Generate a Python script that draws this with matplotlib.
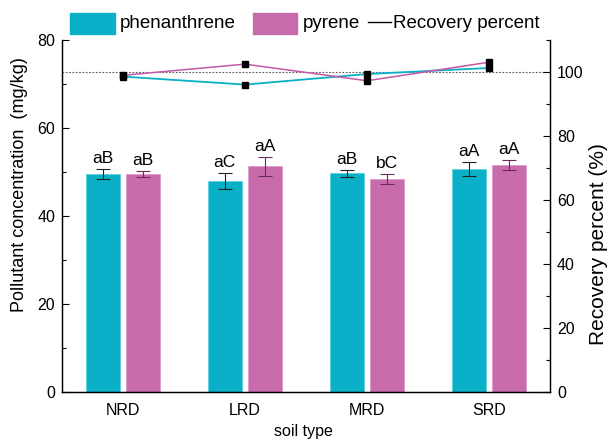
import numpy as np
import matplotlib.pyplot as plt
from matplotlib.patches import Rectangle
from matplotlib.lines import Line2D

plt.rcParams['font.family'] = ['Liberation Sans', 'DejaVu Sans']

# data
soils = ['NRD', 'LRD', 'MRD', 'SRD']
phen = [49.5, 48.0, 49.7, 50.7]
phen_err = [1.1, 1.8, 0.8, 1.5]
pyr = [49.5, 51.3, 48.5, 51.6]
pyr_err = [0.7, 2.2, 1.1, 1.1]
phen_lab = ['aB', 'aC', 'aB', 'aA']
pyr_lab = ['aB', 'aA', 'bC', 'aA']
phen_rec = [98.6, 96.1, 99.4, 101.3]
pyr_rec = [99.0, 102.5, 97.3, 103.1]

c_phen = '#0AB0C7'
c_pyr = '#C86BAB'

fig = plt.figure(figsize=(6.09, 4.41), dpi=100)
ax = fig.add_axes([0.1018, 0.111, 0.8013, 0.798])
ax2 = ax.twinx()

x = np.arange(len(soils))
off = 0.165
w = 0.28
ax.bar(x - off, phen, w, color=c_phen, edgecolor='#5fd0df', linewidth=0.6, zorder=2)
ax.bar(x + off, pyr, w, color=c_pyr, edgecolor='#dc9ac8', linewidth=0.6, zorder=2)
ax.errorbar(x - off, phen, yerr=phen_err, fmt='none', ecolor='#222222',
            elinewidth=0.8, capsize=5, capthick=0.8, zorder=3)
ax.errorbar(x + off, pyr, yerr=pyr_err, fmt='none', ecolor='#6b2a63',
            elinewidth=0.8, capsize=5, capthick=0.8, zorder=3)

for i in range(len(soils)):
    ax.text(x[i] - off, phen[i] + phen_err[i] + 0.7, phen_lab[i],
            ha='center', va='bottom', fontsize=12.5)
    ax.text(x[i] + off, pyr[i] + pyr_err[i] + 0.7, pyr_lab[i],
            ha='center', va='bottom', fontsize=12.5)

ax.set_xlim(-0.5, 3.5)
ax.set_ylim(0, 80)
ax.set_yticks([0, 20, 40, 60, 80])
ax.set_yticks([10, 30, 50, 70], minor=True)
ax.set_xticks(x)
ax.set_xticklabels(soils, fontsize=11.5)
ax.tick_params(axis='x', length=0, pad=8)
ax.tick_params(axis='y', which='major', direction='in', length=5, width=0.8,
               labelsize=11.5, pad=5)
ax.tick_params(axis='y', which='minor', direction='in', length=3, width=0.8)

# recovery percent on the right axis
ax2.axhline(100, color='#555555', linestyle=(0, (1.5, 1.5)), linewidth=0.8, zorder=1)
ax2.plot(x, phen_rec, color=c_phen, linewidth=1.3, marker='s', markersize=4,
         markerfacecolor='black', markeredgecolor='black', zorder=4)
ax2.plot(x, pyr_rec, color='#c259a6', linewidth=1.1, marker='s', markersize=4,
         markerfacecolor='black', markeredgecolor='black', zorder=4)
ax2.set_ylim(0, 110)
ax2.set_yticks([0, 20, 40, 60, 80, 100])
ax2.set_yticks([10, 30, 50, 70, 90, 110], minor=True)
ax2.tick_params(axis='y', which='major', direction='in', length=5, width=0.8,
                labelsize=11.5, pad=5)
ax2.tick_params(axis='y', which='minor', direction='in', length=3, width=0.8)

for a in (ax, ax2):
    a.spines['top'].set_visible(False)
    for s in ('left', 'right', 'bottom'):
        a.spines[s].set_linewidth(0.9)

ax.set_ylabel('Pollutant concentration  (mg/kg)', fontsize=13)
ax.yaxis.set_label_coords(-0.07, 0.59)
ax2.set_ylabel('Recovery percent (%)', fontsize=15)
ax2.yaxis.set_label_coords(1.08, 0.42)
ax.set_xlabel('soil type', fontsize=11.5)
ax.xaxis.set_label_coords(0.494, -0.092)

# legend row above the axes
W, H = 609, 441
def fx(px):
    return px / W
def fy(py):
    return 1 - py / H

fig.add_artist(Rectangle((fx(70), fy(34)), fx(45), 21 / H, color=c_phen,
                         transform=fig.transFigure))
fig.text(fx(120), fy(23), 'phenanthrene', fontsize=13.5, va='center', ha='left')
fig.add_artist(Rectangle((fx(253), fy(34)), fx(44), 21 / H, color=c_pyr,
                         transform=fig.transFigure))
fig.text(fx(303), fy(23), 'pyrene', fontsize=13.5, va='center', ha='left')
fig.add_artist(Line2D([fx(368), fx(391)], [fy(22), fy(22)], color='black',
                      linewidth=1.0, transform=fig.transFigure))
fig.text(fx(393), fy(23), 'Recovery percent', fontsize=13.5, va='center', ha='left')

fig.savefig('out.png', dpi=100)
